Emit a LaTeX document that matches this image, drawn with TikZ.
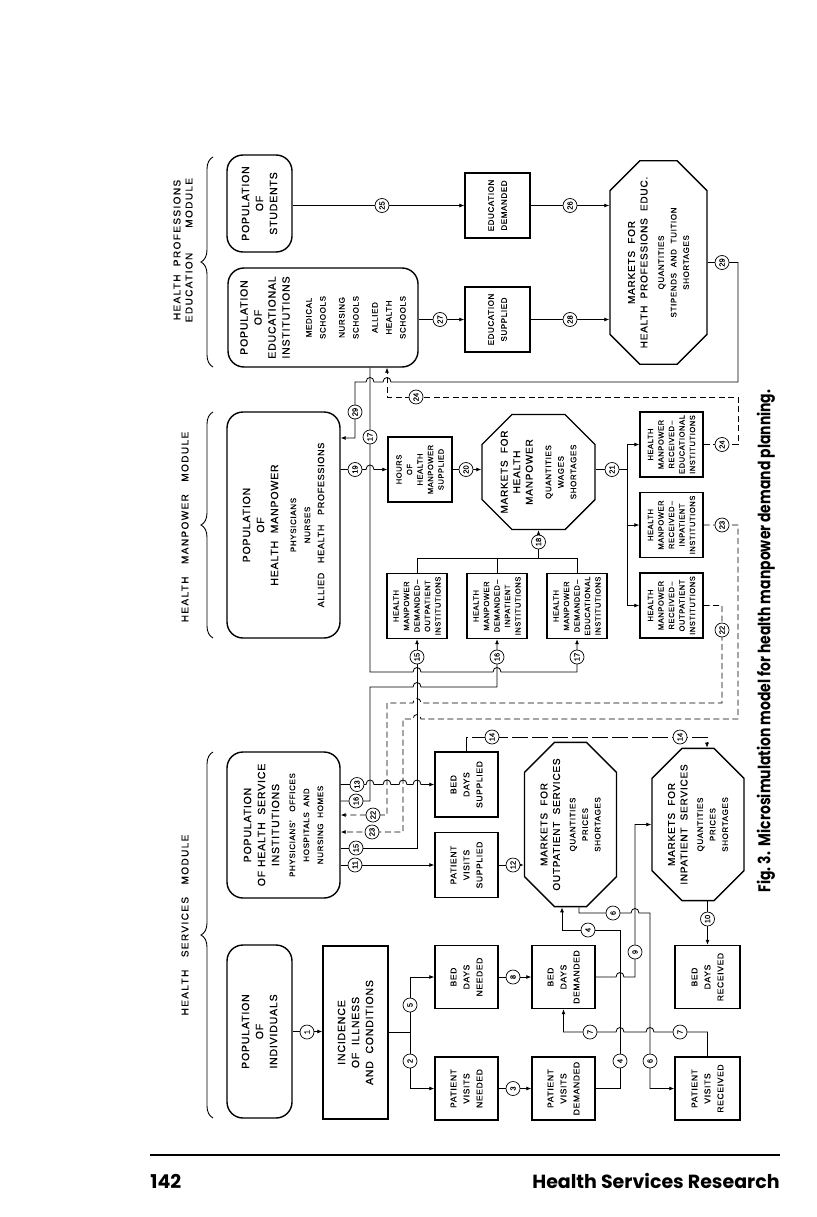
\documentclass[tikz,border=0pt]{standalone}
\usepackage{fontspec}
\setmainfont{Liberation Sans}[LetterSpace=8, FakeBold=0.6]
\newfontfamily\capfont{Poppins}
\newfontfamily\numfont{Liberation Sans}[FakeBold=0.4]
\usetikzlibrary{shapes.misc,arrows.meta,decorations.pathreplacing}
\newcommand\ttl{\fontsize{10.5}{14}\selectfont}
\newcommand\subf{\fontsize{8}{10.5}\selectfont}
\newcommand\hmf{\fontsize{7.5}{10.5}\selectfont}
\newcommand\smf{\fontsize{8.5}{13}\selectfont}
\newcommand\edf{\fontsize{8}{13}\selectfont}
\newcommand\mktf{\fontsize{10}{12.5}\selectfont}
\newcommand\hdf{\addfontfeatures{LetterSpace=14}\fontsize{10}{12}\selectfont}
\newcommand\cnf{\numfont\fontsize{7.5}{8}\selectfont}
\newcommand\hopr[2]{-- ({#1-4},#2) .. controls ({#1-4},{#2-6}) and ({#1+4},{#2-6}) .. ({#1+4},#2)}
\newcommand\hopl[2]{-- ({#1+4},#2) .. controls ({#1+4},{#2-6}) and ({#1-4},{#2-6}) .. ({#1-4},#2)}
\begin{document}
\begin{tikzpicture}[x=1pt,y=-1pt,line width=0.8pt,
  >={Latex[length=5pt,width=4pt]},
  bx/.style={draw, line width=1.4pt, rotate=90, align=center, inner sep=1pt},
  rb/.style={bx, rounded corners=16pt},
  oc/.style={bx, chamfered rectangle, chamfered rectangle xsep=15pt, chamfered rectangle ysep=15pt},
  cn/.style={circle, draw, fill=white, inner sep=0pt, minimum size=14pt, rotate=90, font=\cnf, line width=0.7pt},
  dsh/.style={dash pattern=on 6pt off 3.5pt},
  hd/.style={rotate=90, align=center, font=\hdf, inner sep=0pt},
  brc/.style={decorate, decoration={brace, amplitude=12pt}, line width=0.9pt}]
\useasboundingbox (0,0) rectangle (816,1217);

% ---------- headers and braces
\node[hd] (hpe) at (183,250) {HEALTH~~PROFESSIONS\\EDUCATION~~~~~~MODULE};
\node[hd] (hmh) at (185,527) {HEALTH~~~MANPOWER~~~MODULE};
\node[hd] (hsh) at (185,925) {HEALTH~~~SERVICES~~~MODULE};
\coordinate (b1a) at (213,367); \coordinate (b1b) at (213,157);
\coordinate (b2a) at (213,638); \coordinate (b2b) at (213,412);
\coordinate (b3a) at (213,1118); \coordinate (b3b) at (213,752);
\draw[brc] (b1a) -- (b1b);
\draw[brc] (b2a) -- (b2b);
\draw[brc] (b3a) -- (b3b);

% ---------- populations
\node[rb, minimum width=97pt, minimum height=65pt, font=\ttl] (popstu) at (259.5,203.5) {POPULATION\\OF\\STUDENTS};
\node[rb, minimum width=99pt, minimum height=190pt, font=\ttl] (popedu) at (323,317.5)
  {POPULATION\\OF\\EDUCATIONAL\\INSTITUTIONS\\[8pt]\subf MEDICAL\\\subf SCHOOLS\\[5pt]\subf NURSING\\\subf SCHOOLS\\[5pt]\subf ALLIED\\\subf HEALTH\\\subf SCHOOLS};
\node[rb, minimum width=226pt, minimum height=113pt, font=\ttl] (pophm) at (283.5,525)
  {POPULATION\\OF\\HEALTH~~MANPOWER\\[4pt]\subf PHYSICIANS\\\subf NURSES\\\fontsize{9}{11}\selectfont ALLIED~~~HEALTH~~~PROFESSIONS};
\node[rb, minimum width=146pt, minimum height=113pt, font=\ttl] (pophsi) at (283.5,825)
  {POPULATION\\OF~HEALTH~~SERVICE\\INSTITUTIONS\\[2pt]\subf PHYSICIANS'~~~OFFICES\\\subf HOSPITALS~~AND\\\subf NURSING~~HOMES};
\node[rb, minimum width=173pt, minimum height=65pt, font=\ttl] (popind) at (259.5,1031.5) {POPULATION\\OF\\INDIVIDUALS};
\node[bx, minimum width=173pt, minimum height=65pt, font=\ttl] (inc) at (355.5,1032.5) {INCIDENCE\\OF~~ILLNESS\\AND~~CONDITIONS};

% ---------- education module
\node[bx, minimum width=65pt, minimum height=65pt, font=\edf] (edudem) at (497.5,205.5) {EDUCATION\\DEMANDED};
\node[bx, minimum width=65pt, minimum height=65pt, font=\edf] (edusup) at (497.5,319.5) {EDUCATION\\SUPPLIED};
\node[oc, minimum width=179pt, minimum height=97pt, font=\mktf] (mhpe) at (658.5,262.5)
  {MARKETS~~FOR\\HEALTH~~PROFESSIONS~~EDUC.\\[4pt]\subf QUANTITIES\\\subf STIPENDS~~AND~~TUITION\\\subf SHORTAGES};

% ---------- manpower module
\node[bx, minimum width=65pt, minimum height=64pt, font=\hmf] (hours) at (420,469.5) {HOURS\\OF\\HEALTH\\MANPOWER\\SUPPLIED};
\node[oc, minimum width=106pt, minimum height=113pt, font=\mktf] (mhm) at (538.5,472)
  {MARKETS~~FOR\\HEALTH\\MANPOWER\\[6pt]\subf QUANTITIES\\\subf WAGES\\\subf SHORTAGES};
\node[bx, minimum width=65pt, minimum height=63pt, font=\hmf] (rce) at (671.5,444.5) {HEALTH\\MANPOWER\\RECEIVED\,--\\EDUCATIONAL\\INSTITUTIONS};
\node[bx, minimum width=65pt, minimum height=63pt, font=\hmf] (rci) at (671.5,525) {HEALTH\\MANPOWER\\RECEIVED\,--\\INPATIENT\\INSTITUTIONS};
\node[bx, minimum width=65pt, minimum height=63pt, font=\hmf] (rco) at (671.5,605.5) {HEALTH\\MANPOWER\\RECEIVED\,--\\OUTPATIENT\\INSTITUTIONS};
\node[bx, minimum width=65pt, minimum height=60pt, font=\hmf] (dmo) at (417,606) {HEALTH\\MANPOWER\\DEMANDED\,--\\OUTPATIENT\\INSTITUTIONS};
\node[bx, minimum width=65pt, minimum height=60pt, font=\hmf] (dmi) at (497,606) {HEALTH\\MANPOWER\\DEMANDED\,--\\INPATIENT\\INSTITUTIONS};
\node[bx, minimum width=65pt, minimum height=60pt, font=\hmf] (dme) at (577,606) {HEALTH\\MANPOWER\\DEMANDED\,--\\EDUCATIONAL\\INSTITUTIONS};

% ---------- services module
\node[bx, minimum width=65pt, minimum height=63pt, font=\smf] (bds) at (466.5,784.5) {BED\\DAYS\\SUPPLIED};
\node[bx, minimum width=65pt, minimum height=63pt, font=\smf] (pvs) at (466.5,865) {PATIENT\\VISITS\\SUPPLIED};
\node[oc, minimum width=145pt, minimum height=81pt, font=\mktf] (mout) at (570.5,824.5)
  {MARKETS~~FOR\\OUTPATIENT~~SERVICES\\[3pt]\subf QUANTITIES\\\subf PRICES\\\subf SHORTAGES};
\node[oc, minimum width=145pt, minimum height=81pt, font=\mktf] (minp) at (698,824.5)
  {MARKETS~~FOR\\INPATIENT~~SERVICES\\[3pt]\subf QUANTITIES\\\subf PRICES\\\subf SHORTAGES};
\node[bx, minimum width=63pt, minimum height=63pt, font=\smf] (bdn) at (466.5,977) {BED\\DAYS\\NEEDED};
\node[bx, minimum width=63pt, minimum height=63pt, font=\smf] (pvn) at (466.5,1088.5) {PATIENT\\VISITS\\NEEDED};
\node[bx, minimum width=63pt, minimum height=63pt, font=\smf] (bdd) at (563.5,977) {BED\\DAYS\\DEMANDED};
\node[bx, minimum width=63pt, minimum height=63pt, font=\smf] (pvd) at (563.5,1088.5) {PATIENT\\VISITS\\DEMANDED};
\node[bx, minimum width=63pt, minimum height=65pt, font=\smf] (bdr) at (707.5,977) {BED\\DAYS\\RECEIVED};
\node[bx, minimum width=63pt, minimum height=65pt, font=\smf] (pvr) at (707.5,1088.5) {PATIENT\\VISITS\\RECEIVED};

% ---------- connectors
\draw[->] (popind.south) -- (popind.south -| inc.north);
\draw[->] (inc.south) -- (410,1032.5) -- (410,977) -- (bdn.north);
\draw[->] (410,1032.5) -- (410,1088.5) -- (pvn.north);
\draw[->] (pvn.south) -- (pvd.north);
\draw[->] (bdn.south) -- (bdd.north);
\draw[->] (pvd.south) -- (620,1088.5) -- (620,930) -- (562,930) -- (mout.west -| 562,930);
\draw[->] (mout.west -| 579,913) -- (579,913) \hopr{635}{913} -- (650,913) -- (650,1088.5) -- (pvr.north);
\draw[->] (bdd.south) \hopr{620}{977} -- (635,977) -- (635,824.5) -- (minp.north);
\draw[->] (pvr.east) -- (707.5,1032) \hopl{650}{1032} \hopl{620}{1032} -- (563.5,1032) -- (bdd.west);
\draw[->] (minp.west -| bdr.east) -- (bdr.east);
\draw[->] (pophsi.south |- pvs) -- (pvs.north);
\draw[->] (pvs.south) -- (pvs.south -| mout.north);
\draw[->] (pophsi.south |- bds) \hopr{370}{784.5} \hopr{387}{784.5} \hopr{403}{784.5} \hopr{417}{784.5} -- (bds.north);
\draw[->, dash pattern=on 16pt off 4pt, line width=0.6pt] (bds.east) -- (466.5,737) -- (707,737) -- (minp.east -| 707,737);
\draw[->] (pophsi.south |- 0,848) -- (417,848) -- (dmo.west);
\draw[->] (pophsi.south |- 0,801) -- (370,801) -- (370,687) \hopr{417}{687} -- (497,687) -- (dmi.west);
\draw[->] (popedu.west -| 370,0) -- (370,672) \hopr{417}{672} \hopr{497}{672} -- (577,672) -- (dme.west);
\draw (dmo.east) -- (417,558) -- (577,558) -- (dme.east);
\draw (dmi.east) -- (497,558);
\draw[->] (538.5,558) -- (mhm.west);
\draw[->] (pophm.south |- hours) \hopr{370}{469.5} -- (hours.north);
\draw[->] (hours.south) -- (hours.south -| mhm.north);
\draw[->] (mhm.south |- hours) -- (627,469.5) |- (rce.north);
\draw[->] (627,469.5) |- (rco.north);
\draw[->] (627,525) -- (rci.north);
\draw[->, dsh] (rco.south) -- (722,605.5) -- (722,703) \hopl{417}{703} -- (387,703) -- (387,815) -- (pophsi.south |- 0,815);
\draw[->, dsh] (rci.south) -- (738,525) -- (738,719) \hopl{417}{719} -- (403,719) -- (403,832) -- (pophsi.south |- 0,832);
\draw[->, dsh] (rce.south) -- (738,444.5) -- (738,397) -- (387,397) -- (popedu.west -| 387,0);
\draw[->, line width=0.6pt] (popstu.south |- edudem) -- (edudem.north);
\draw[->] (edudem.south) -- (edudem.south -| mhpe.north);
\draw[->] (popedu.south |- edusup) -- (edusup.north);
\draw[->] (edusup.south) -- (edusup.south -| mhpe.north);
\draw[->] (mhpe.south) -- (738,262.5) -- (738,382) \hopl{387}{382} \hopl{370}{382} -- (355,382) -- (355,438) -- (pophm.south |- 0,438);

% ---------- numbered circles
\node[cn] (c1) at (307,1032) {1};
\node[cn] (c2) at (410,1061) {2};
\node[cn] (c5) at (410,1005) {5};
\node[cn] (c3) at (513,1088.5) {3};
\node[cn] (c8) at (513,977) {8};
\node[cn] (c4a) at (620,1061) {4};
\node[cn] (c4b) at (588,930) {4};
\node[cn] (c6a) at (613,913) {6};
\node[cn] (c6b) at (650,1061) {6};
\node[cn] (c7a) at (680,1032) {7};
\node[cn] (c7b) at (590,1032) {7};
\node[cn] (c9) at (635,952) {9};
\node[cn] (c10) at (707.5,919) {10};
\node[cn] (c11) at (355,865) {11};
\node[cn] (c12) at (513,865) {12};
\node[cn] (c13) at (357,784.5) {13};
\node[cn] (c14a) at (492,737) {14};
\node[cn] (c14b) at (680,737) {14};
\node[cn] (c15a) at (356,848) {15};
\node[cn] (c15b) at (417,657) {15};
\node[cn] (c16a) at (356,801) {16};
\node[cn] (c16b) at (497,657) {16};
\node[cn] (c17a) at (370,437) {17};
\node[cn] (c17b) at (577,657) {17};
\node[cn] (c18) at (538.5,542) {18};
\node[cn] (c19) at (355,469.5) {19};
\node[cn] (c20) at (466,469.5) {20};
\node[cn] (c21) at (612,469.5) {21};
\node[cn] (c22a) at (722,630) {22};
\node[cn] (c22b) at (373,815) {22};
\node[cn] (c23a) at (722,525) {23};
\node[cn] (c23b) at (372,832) {23};
\node[cn] (c24a) at (722,444.5) {24};
\node[cn] (c24b) at (416,397) {24};
\node[cn] (c25) at (382,205.5) {25};
\node[cn] (c26) at (570,205.5) {26};
\node[cn] (c27) at (440,319.5) {27};
\node[cn] (c28) at (570,319.5) {28};
\node[cn] (c29a) at (722,262.5) {29};
\node[cn] (c29b) at (355,412) {29};

% ---------- caption and footer
\node[rotate=90, inner sep=0pt, font=\capfont\bfseries\fontsize{17}{20}\selectfont] (cap) at (766,641)
  {\scalebox{0.82}[1]{Fig.~3.~~Microsimulation model for health manpower demand planning.}};
\coordinate (rl) at (150,1155);
\coordinate (rr) at (780,1155);
\draw[line width=2.2pt] (rl) -- (rr);
\node[anchor=base west, inner sep=0pt, font=\capfont\bfseries\fontsize{19}{21}\selectfont] (pg) at (150,1188) {142};
\node[anchor=base east, inner sep=0pt, font=\capfont\bfseries\fontsize{19}{21}\selectfont] (jr) at (780,1188) {Health Services Research};
\end{tikzpicture}
\end{document}
